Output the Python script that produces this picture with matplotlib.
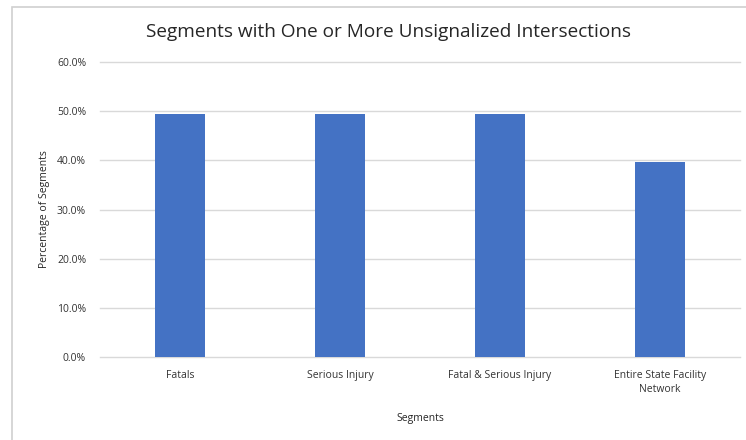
import numpy as np
import matplotlib.pyplot as plt
from matplotlib.patches import Rectangle
from matplotlib.ticker import FuncFormatter

categories = ['Fatals', 'Serious Injury', 'Fatal & Serious Injury', 'Entire State Facility\nNetwork']
pct = [49.5, 49.5, 49.5, 39.6]
yticks = [0, 10, 20, 30, 40, 50, 60]

plt.rcParams['font.family'] = ['Open Sans', 'DejaVu Sans']

fig = plt.figure(figsize=(7.46, 4.40), dpi=100)
fig.patch.set_facecolor('white')

# chart frame
fig.patches.append(Rectangle((12/746, -0.05), 1.0, 1 - 7/440 + 0.05, transform=fig.transFigure,
                             fill=False, edgecolor='#d0d0d0', linewidth=1.2))

ax = fig.add_axes([100/746, 1 - 357/440, 640/746, (357 - 62)/440])
x = np.arange(len(categories))
ax.bar(x, pct, width=0.31, color='#4472c4', zorder=3)

ax.set_xlim(-0.5, len(categories) - 0.5)
ax.set_ylim(0, 60)
ax.set_yticks(yticks)
ax.yaxis.set_major_formatter(FuncFormatter(lambda v, p: '%.1f%%' % v))
ax.set_xticks(x)
ax.set_xticklabels(categories, fontsize=7.5, color='#333333', linespacing=1.4)
ax.tick_params(axis='y', labelsize=7.5, labelcolor='#333333', length=0, pad=10)
ax.tick_params(axis='x', length=0, pad=9)
for t in yticks:
    ax.axhline(t, color='#d9d9d9', linewidth=1.0, zorder=0, clip_on=False)
for s in ax.spines.values():
    s.set_visible(False)

fig.text(388/746, 1 - 32/440, 'Segments with One or More Unsignalized Intersections',
         fontsize=13.7, color='#262626', ha='center', va='center', fontweight='medium')
ax.set_ylabel('Percentage of Segments', fontsize=7.5, color='#262626', labelpad=5)
ax.set_xlabel('Segments', fontsize=7.5, color='#262626', labelpad=13)

fig.savefig('out.png', dpi=100)
